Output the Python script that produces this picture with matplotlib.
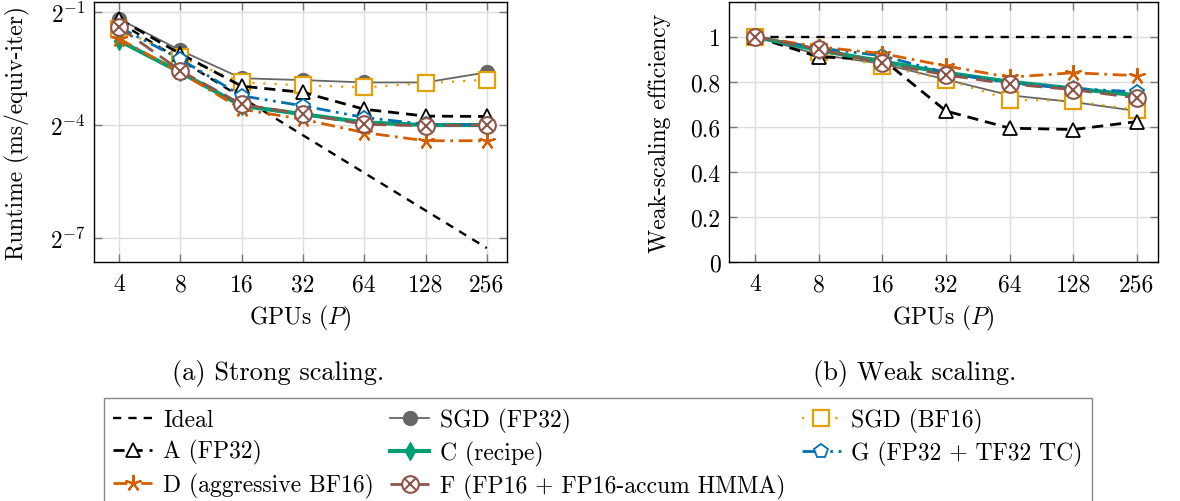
import matplotlib
matplotlib.use("Agg")
import matplotlib.pyplot as plt
from matplotlib.legend_handler import HandlerTuple

plt.rcParams['font.family'] = ['cmr10', 'DejaVu Serif']
plt.rcParams['mathtext.fontset'] = 'cm'
plt.rcParams['axes.formatter.use_mathtext'] = True
plt.rcParams['font.size'] = 17

gpus = [4, 8, 16, 32, 64, 128, 256]
gpu_labels = ['4', '8', '16', '32', '64', '128', '256']

# strong scaling, runtime in ms per equivalent iteration
strong_ideal = [0.415, 0.2074, 0.1037, 0.0518, 0.0259, 0.01296, 0.00648]
strong_sgd_fp32 = [0.441, 0.247, 0.148, 0.143, 0.137, 0.137, 0.165]
strong_sgd_bf16 = [0.369, 0.218, 0.137, 0.130, 0.125, 0.135, 0.144]
strong_a = [0.441, 0.232, 0.128, 0.114, 0.0836, 0.0737, 0.0732]
strong_c = [0.296, 0.165, 0.0890, 0.0764, 0.0656, 0.0625, 0.0625]
strong_g = [0.379, 0.210, 0.107, 0.0890, 0.0718, 0.0634, 0.0625]
strong_d = [0.306, 0.165, 0.0836, 0.0694, 0.0544, 0.0468, 0.0468]
strong_f = [0.379, 0.170, 0.0915, 0.0764, 0.0634, 0.0616, 0.0625]

# weak scaling efficiency
weak_ideal = [1.0, 1.0, 1.0, 1.0, 1.0, 1.0, 1.0]
weak_sgd_fp32 = [1.0, 0.92, 0.88, 0.81, 0.74, 0.71, 0.67]
weak_sgd_bf16 = [1.0, 0.93, 0.87, 0.81, 0.72, 0.715, 0.675]
weak_a = [1.0, 0.91, 0.90, 0.67, 0.594, 0.588, 0.623]
weak_c = [1.0, 0.94, 0.89, 0.84, 0.80, 0.77, 0.74]
weak_g = [1.0, 0.95, 0.915, 0.84, 0.795, 0.77, 0.755]
weak_d = [1.0, 0.955, 0.925, 0.87, 0.82, 0.84, 0.827]
weak_f = [1.0, 0.945, 0.883, 0.83, 0.79, 0.765, 0.728]

c_gray = '#666666'
c_yel = '#E69F00'
c_green = '#009E73'
c_blue = '#0072B2'
c_orange = '#D55E00'
c_brown = '#8C564B'


def draw(ax, ys):
    ideal, sgd32, sgd16, a, c, g, d, f = ys
    h = {}
    h['Ideal'], = ax.plot(gpus, ideal, color='black', lw=1.7, dashes=(3.5, 3))
    h['SGD (FP32)'], = ax.plot(gpus, sgd32, color=c_gray, lw=1.3, marker='o', ms=10)
    h['SGD (BF16)'], = ax.plot(gpus, sgd16, color=c_yel, lw=1.6, dashes=(1, 4),
                               marker='s', ms=11, mfc='white', mec=c_yel, mew=1.6)
    h['A (FP32)'], = ax.plot(gpus, a, color='black', lw=2.0, dashes=(4, 2.5),
                             marker='^', ms=10, mfc='white', mec='black', mew=1.3)
    h['C (recipe)'], = ax.plot(gpus, c, color=c_green, lw=3.0, marker='d', ms=9)
    h['G (FP32 + TF32 TC)'], = ax.plot(gpus, g, color=c_blue, lw=2.0,
                                       dashes=(5, 2, 1, 2, 1, 2),
                                       marker='p', ms=10, mfc='white', mec=c_blue, mew=1.3)
    h['D (aggressive BF16)'], = ax.plot(gpus, d, color=c_orange, lw=2.0,
                                        dashes=(5, 2, 1, 2),
                                        marker=(5, 2, 0), ms=12, mew=1.5)
    fo, = ax.plot(gpus, f, color=c_brown, lw=2.0, dashes=(6, 3),
                  marker='o', ms=12, mfc='white', mec=c_brown, mew=1.5)
    fx, = ax.plot(gpus, f, ls='none', marker='x', ms=8, mec=c_brown, mew=1.5)
    h['F (FP16 + FP16-accum HMMA)'] = (fo, fx)

    ax.set_xscale('log', base=2)
    ax.set_xticks(gpus)
    ax.set_xticklabels(gpu_labels)
    ax.minorticks_off()
    ax.set_xlim(2 ** 1.59, 2 ** 8.33)
    ax.grid(True, color='#dddddd', lw=1.0)
    ax.set_axisbelow(True)
    ax.tick_params(direction='in', top=True, right=True, length=6,
                   color='#777777', width=1.0)
    ax.tick_params(axis='x', pad=8)
    ax.tick_params(axis='y', pad=6)
    for s in ax.spines.values():
        s.set_linewidth(1.0)
    ax.set_xlabel('GPUs ($P$)', va='center')
    ax.xaxis.set_label_coords(0.5, (263 - 318) / 260)
    return h


fig = plt.figure(figsize=(11.8, 5.02), dpi=100)
ax1 = fig.add_axes([94 / 1180, 1 - 263 / 502, 413 / 1180, 260 / 502])
ax2 = fig.add_axes([729 / 1180, 1 - 263 / 502, 429 / 1180, 260 / 502])

h = draw(ax1, [strong_ideal, strong_sgd_fp32, strong_sgd_bf16, strong_a,
               strong_c, strong_g, strong_d, strong_f])
ax1.set_yscale('log', base=2)
ax1.set_yticks([2 ** -1, 2 ** -4, 2 ** -7])
ax1.set_yticklabels([r'$2^{-1}$', r'$2^{-4}$', r'$2^{-7}$'])
ax1.minorticks_off()
ax1.set_ylim(2 ** -7.64, 2 ** -0.73)
ax1.set_ylabel('Runtime (ms/equiv-iter)', va='center', ha='center')
ax1.yaxis.set_label_coords((17 - 94) / 413, 0.5)

draw(ax2, [weak_ideal, weak_sgd_fp32, weak_sgd_bf16, weak_a,
           weak_c, weak_g, weak_d, weak_f])
ax2.set_yticks([0, 0.2, 0.4, 0.6, 0.8, 1.0])
ax2.set_yticklabels(['0', '0.2', '0.4', '0.6', '0.8', '1'])
ax2.set_ylim(0, 1.154)
ax2.set_ylabel('Weak-scaling efficiency', va='center', ha='center')
ax2.yaxis.set_label_coords((660 - 729) / 429, 0.5)

fig.text(278 / 1180, 1 - 374 / 502, '(a) Strong scaling.', ha='center', va='center',
         fontsize=19)
fig.text(915 / 1180, 1 - 374 / 502, '(b) Weak scaling.', ha='center', va='center',
         fontsize=19)

# legend is filled column by column
order = ['Ideal', 'A (FP32)', 'D (aggressive BF16)',
         'SGD (FP32)', 'C (recipe)', 'F (FP16 + FP16-accum HMMA)',
         'SGD (BF16)', 'G (FP32 + TF32 TC)']
leg = fig.legend([h[k] for k in order], order, ncol=3, loc='upper left',
                 bbox_to_anchor=(104 / 1180, 1 - 500 / 502, 988 / 1180, 101 / 502),
                 mode='expand', borderaxespad=0, frameon=True, fancybox=False,
                 edgecolor='#888888', framealpha=1, fontsize=17, handlelength=1.65,
                 handletextpad=0.45, labelspacing=0.35, borderpad=0.4,
                 handler_map={tuple: HandlerTuple(ndivide=1, pad=0)})
leg.get_frame().set_linewidth(1.0)

fig.savefig('out.png', dpi=100)
